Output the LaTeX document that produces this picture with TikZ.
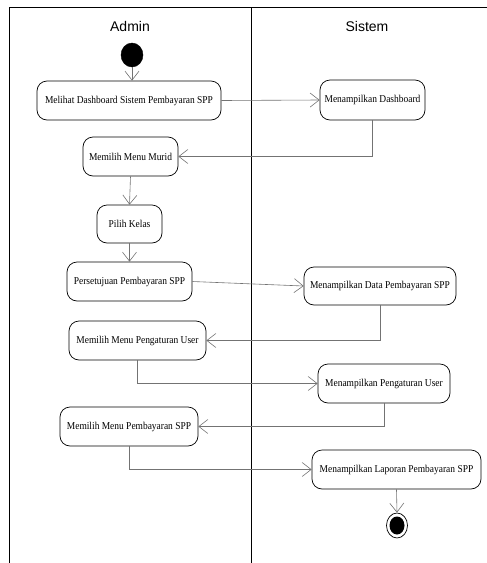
\documentclass[tikz,border=0pt]{standalone}
\usepackage{fontspec}
\setmainfont{Liberation Serif}
\setsansfont{Liberation Sans}
\newfontfamily\boxfont[FakeStretch=0.9]{Liberation Serif}
\usetikzlibrary{arrows.meta,shapes.geometric}
\begin{document}
\begin{tikzpicture}[x=1pt,y=-1pt,
  act/.style={draw=black,line width=0.7pt,rounded corners=10pt,inner sep=0pt,font=\boxfont\fontsize{10.5}{12}\selectfont},
  flow/.style={draw=black!55,line width=0.6pt,-{Straight Barb[length=9pt,width=14pt,line width=0.6pt]}},
  lane/.style={draw=black,line width=0.8pt},
  title/.style={font=\sffamily\fontsize{14}{16}\selectfont}]
\useasboundingbox (0,0) rectangle (487,563);
% swimlanes
\draw[lane] (9,563) -- (9,7) -- (487,7);
\draw[lane] (251,7) -- (251,563);
\node[title] (tadmin) at (130,26) {Admin};
\node[title] (tsis) at (367,26) {Sistem};
% nodes
\node[ellipse,fill=black,draw=black,minimum width=22pt,minimum height=24pt,inner sep=0pt] (start) at (132,55) {};
\node[act,minimum width=184pt,minimum height=39pt] (a1) at (129,100.5) {Melihat Dashboard Sistem Pembayaran SPP};
\node[act,minimum width=105pt,minimum height=40pt] (s1) at (372.5,100) {Menampilkan Dashboard};
\node[act,minimum width=95pt,minimum height=39pt] (a2) at (130.5,156.5) {Memilih Menu Murid};
\node[act,minimum width=65pt,minimum height=38pt] (a3) at (129.5,224) {Pilih Kelas};
\node[act,minimum width=125pt,minimum height=39pt] (a4) at (129.5,281.5) {Persetujuan Pembayaran SPP};
\node[act,minimum width=152pt,minimum height=38pt] (s2) at (380,286) {Menampilkan Data Pembayaran SPP};
\node[act,minimum width=137pt,minimum height=39pt] (a5) at (137.5,340.5) {Memilih Menu Pengaturan User};
\node[act,minimum width=132pt,minimum height=39pt] (s3) at (384,383.5) {Menampilkan Pengaturan User};
\node[act,minimum width=138pt,minimum height=39pt] (a6) at (129,426.5) {Memilih Menu Pembayaran SPP};
\node[act,minimum width=169pt,minimum height=39pt] (s4) at (396.5,469.5) {Menampilkan Laporan Pembayaran SPP};
\node[ellipse,draw=black,line width=0.7pt,minimum width=21pt,minimum height=25pt,inner sep=0pt] (end) at (397,525.5) {};
\node[ellipse,fill=black,minimum width=15pt,minimum height=18pt,inner sep=0pt] (endin) at (end.center) {};
% connectors
\draw[flow] (start) -- (a1.north -| start);
\draw[flow] (a1.east) -- (s1.west);
\draw[flow] (s1.south) |- (a2.east);
\draw[flow] (a2.south) -- (a3.north);
\draw[flow] (a3.south) -- (a4.north);
\draw[flow] (a4.east) -- (s2.west);
\draw[flow] (s2.south) |- (a5.east);
\draw[flow] (a5.south) |- (s3.west);
\draw[flow] (s3.south) |- (a6.east);
\draw[flow] (a6.south) |- (s4.west);
\draw[flow] (s4.south) -- (end.north);
\end{tikzpicture}
\end{document}
